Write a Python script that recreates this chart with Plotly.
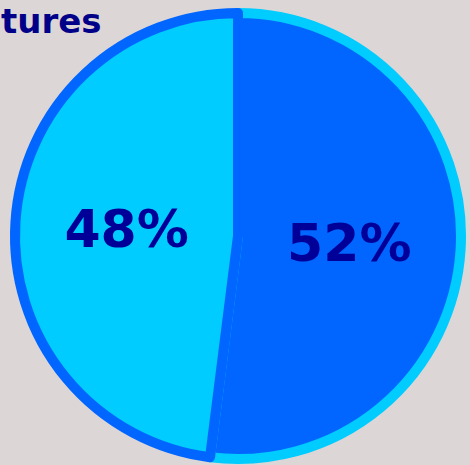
import plotly.graph_objects as go

labels = ["A", "B"]
values = [52, 48]
fill_colors = ["#0066FF", "#00CCFF"]
line_colors = ["#00CCFF", "#0066FF"]
title_text = "tures"

fig = go.Figure(go.Pie(
    labels=labels,
    values=values,
    sort=False,
    direction="clockwise",
    rotation=0,
    marker=dict(colors=fill_colors, line=dict(color=line_colors, width=10)),
    texttemplate="%{percent:.0%}",
    textposition="inside",
    insidetextorientation="horizontal",
    textfont=dict(family="DejaVu Sans", size=52, color="#000099", weight="bold"),
    showlegend=False,
    hoverinfo="skip",
    domain=dict(x=[15/470, 461/470], y=[1-459/465, 1-13/465]),
))

fig.add_annotation(
    text="<b>" + title_text + "</b>", xref="paper", yref="paper",
    x=0, y=1, xanchor="left", yanchor="top", showarrow=False, borderpad=0,
    font=dict(family="DejaVu Sans", size=34, color="#000088"),
)

fig.update_layout(
    width=470, height=465,
    margin=dict(l=0, r=0, t=0, b=0),
    paper_bgcolor="#ddd6d6",
    plot_bgcolor="#ddd6d6",
)

fig.write_html("out.html", config={"displayModeBar": False},
               post_script="document.body.style.margin='0';")
